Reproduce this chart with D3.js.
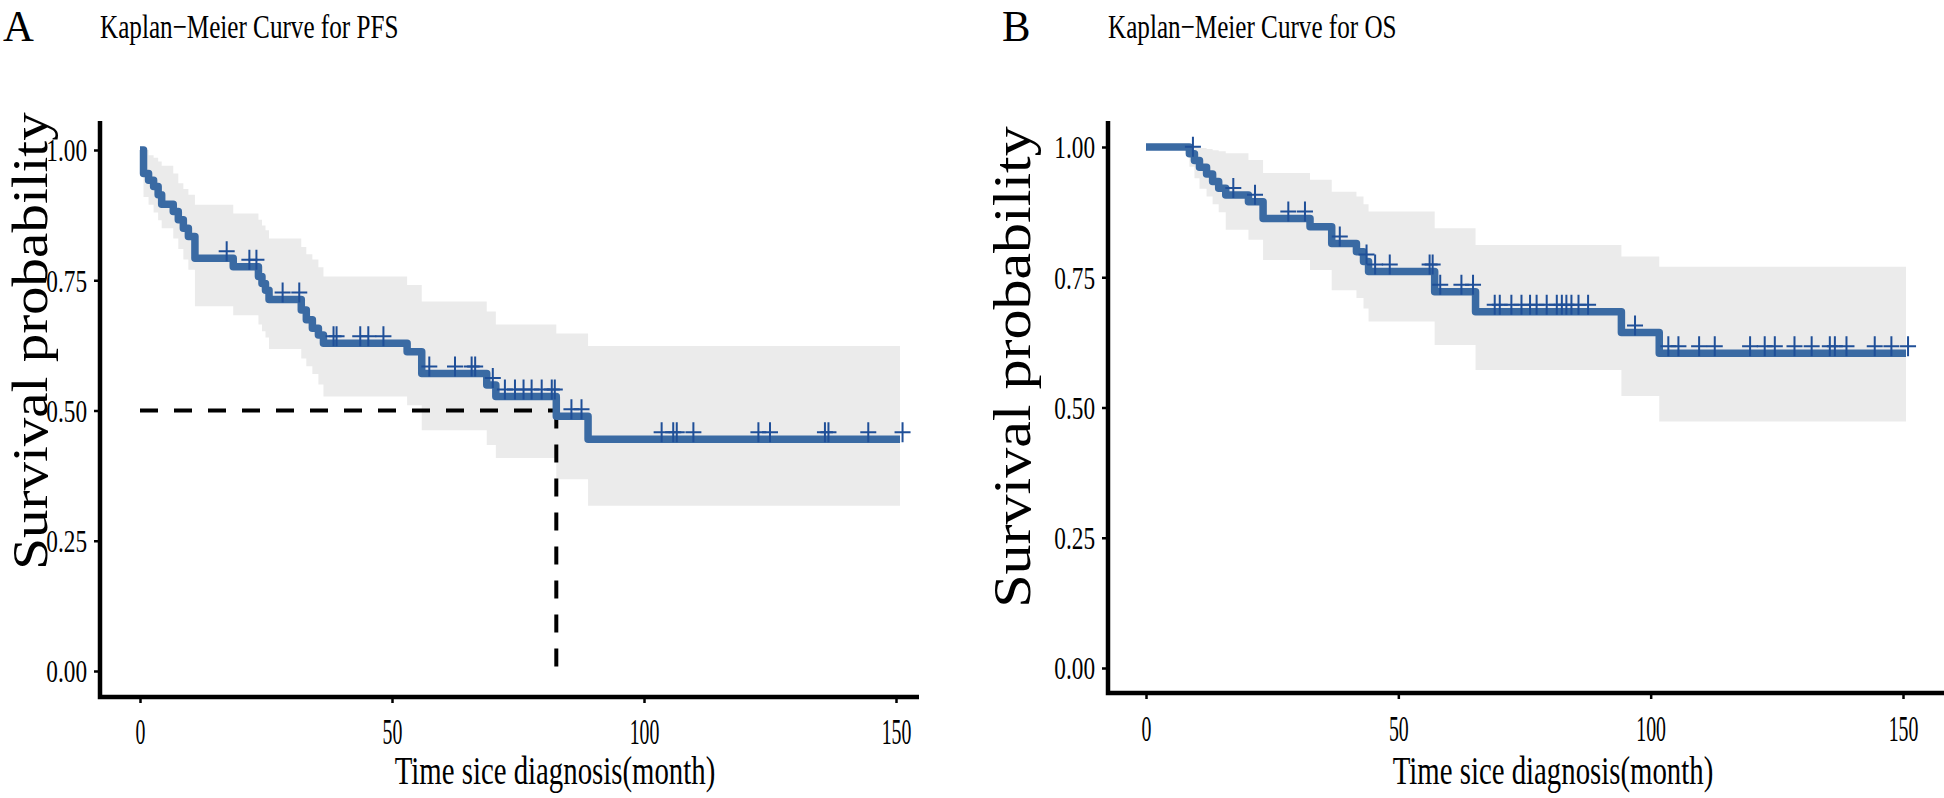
<!DOCTYPE html>
<html>
<head>
<meta charset="utf-8">
<script src="https://cdn.jsdelivr.net/npm/d3@7"></script>
<style>
  html, body { margin: 0; padding: 0; background: #ffffff; }
  svg { display: block; }
</style>
</head>
<body>
<svg id="chart" width="1944" height="798"></svg>
<script>
// ---------------- data ----------------
// PFS (panel A): step times (months), survival after each step, CI bounds
const pfsTime  = [0, 0.7, 1.7, 2.7, 3.6, 4.3, 6.6, 7.6, 8.6, 9.6, 10.9, 18.5, 23.5, 24.2, 24.9, 25.6, 32.0, 33.0, 34.2, 35.4, 36.4, 53.0, 55.9, 68.8, 70.6, 82.6, 88.9];
const pfsSurv  = [1, 0.955, 0.942, 0.930, 0.914, 0.896, 0.882, 0.866, 0.850, 0.834, 0.792, 0.776, 0.757, 0.744, 0.731, 0.713, 0.693, 0.674, 0.658, 0.645, 0.629, 0.613, 0.571, 0.549, 0.527, 0.489, 0.445];
const pfsUpper = [1, 1.0, 0.990, 0.985, 0.978, 0.970, 0.955, 0.936, 0.925, 0.914, 0.895, 0.878, 0.866, 0.855, 0.846, 0.830, 0.814, 0.800, 0.790, 0.775, 0.757, 0.741, 0.709, 0.690, 0.665, 0.648, 0.624];
const pfsLower = [1, 0.910, 0.895, 0.880, 0.865, 0.850, 0.830, 0.810, 0.790, 0.770, 0.700, 0.683, 0.665, 0.652, 0.640, 0.618, 0.600, 0.585, 0.570, 0.550, 0.527, 0.510, 0.462, 0.434, 0.409, 0.368, 0.317];
const pfsEnd = 150.8;
const pfsCensor = [17.2, 21.7, 23.1, 28.3, 31.6, 38.4, 39.0, 43.7, 45.3, 48.3, 57.4, 62.5, 65.8, 66.5, 70.0, 72.4, 74.4, 76.1, 77.7, 79.7, 81.7, 82.3, 85.6, 87.6, 103.5, 105.8, 106.5, 109.8, 122.7, 125.0, 135.9, 136.6, 144.5, 151.3];
const pfsMedian = 82.6;

// OS (panel B)
const osTime  = [0, 8.6, 9.6, 10.6, 12.0, 13.2, 14.4, 15.8, 20.3, 23.2, 32.5, 36.8, 41.7, 43.1, 44.1, 57.2, 65.3, 94.2, 101.7];
const osSurv  = [1, 0.987, 0.974, 0.961, 0.948, 0.934, 0.921, 0.908, 0.895, 0.863, 0.847, 0.815, 0.799, 0.780, 0.761, 0.722, 0.684, 0.644, 0.604];
const osUpper = [1, 1.0, 1.0, 0.998, 0.996, 0.994, 0.992, 0.988, 0.975, 0.950, 0.937, 0.914, 0.905, 0.890, 0.876, 0.844, 0.812, 0.790, 0.770];
const osLower = [1, 0.962, 0.940, 0.920, 0.905, 0.890, 0.875, 0.841, 0.822, 0.783, 0.764, 0.725, 0.710, 0.690, 0.665, 0.620, 0.572, 0.522, 0.473];
const osEnd = 150.6;
const osCensor = [9.3, 17.3, 21.6, 28.2, 31.5, 38.4, 43.7, 45.4, 48.3, 56.2, 56.8, 58.3, 62.5, 64.8, 69.1, 70.1, 72.4, 74.4, 76.1, 77.4, 79.4, 81.4, 82.4, 83.3, 84.3, 85.7, 87.6, 96.9, 103.5, 105.5, 109.6, 112.7, 119.7, 122.6, 124.6, 128.5, 131.9, 135.5, 136.5, 138.8, 144.4, 147.7, 151.0];

// axes
const xTicks = [0, 50, 100, 150];
const yTicks = [0, 0.25, 0.5, 0.75, 1];
const xTitle = "Time sice diagnosis(month)";
const yTitle = "Survival probability";

// ---------------- drawing ----------------
const FONT = "'Liberation Serif','Times New Roman',Times,serif";
const LINE = "#3a6aa3";
const CENS = "#1f4f98";
const BAND = "#ebebeb";
const svg = d3.select("#chart");

function addText(g, str, x, y, size, sx, anchor, rot) {
  return g.append("text")
    .attr("transform", `translate(${x},${y}) scale(${sx},1)` + (rot ? " rotate(-90)" : ""))
    .attr("text-anchor", anchor)
    .style("font-family", FONT)
    .style("font-size", size + "px")
    .attr("fill", "#000")
    .text(str);
}

function panel(cfg) {
  const x = d3.scaleLinear().domain([0, 150]).range(cfg.xr);
  const y = d3.scaleLinear().domain([0, 1]).range(cfg.yr);
  const g = svg.append("g");
  const n = cfg.time.length;

  // confidence band
  const band = cfg.time.map((t, i) => ({ t, lo: cfg.lower[i], hi: cfg.upper[i] }));
  band.push({ t: cfg.end, lo: cfg.lower[n - 1], hi: cfg.upper[n - 1] });
  g.append("path").datum(band)
    .attr("d", d3.area().curve(d3.curveStepAfter).x(d => x(d.t)).y0(d => y(d.lo)).y1(d => y(d.hi)))
    .attr("fill", BAND);

  // median lines
  if (cfg.median != null) {
    g.append("path")
      .attr("d", `M${x(0)},${y(0.5)}H${x(cfg.median)}`)
      .attr("stroke", "#000").attr("stroke-width", 4).attr("stroke-dasharray", "18,16").attr("fill", "none");
    g.append("path")
      .attr("d", `M${x(cfg.median)},${y(0.5)}V${y(0)}`)
      .attr("stroke", "#000").attr("stroke-width", 4).attr("stroke-dasharray", "18,16").attr("fill", "none");
  }

  // KM curve
  const pts = cfg.time.map((t, i) => ({ t, s: cfg.surv[i] }));
  pts.push({ t: cfg.end, s: cfg.surv[n - 1] });
  g.append("path").datum(pts)
    .attr("d", d3.line().curve(d3.curveStepAfter).x(d => x(d.t)).y(d => y(d.s)))
    .attr("fill", "none").attr("stroke", LINE).attr("stroke-width", 7.5)
    .attr("stroke-linejoin", "round").attr("stroke-linecap", "butt");

  // censor marks
  const bis = d3.bisector(d => d).right;
  const survAt = t => cfg.surv[Math.max(0, bis(cfg.time, t) - 1)];
  g.selectAll("path.cens").data(cfg.censor).join("path")
    .attr("class", "cens")
    .attr("d", t => {
      const cx = x(t), cy = y(survAt(t)) - 7;
      return `M${cx - 8},${cy}H${cx + 8}M${cx},${cy - 10}V${cy + 10}`;
    })
    .attr("stroke", CENS).attr("stroke-width", 2).attr("fill", "none");

  // axes
  const ax = cfg.axisX, ay = cfg.axisY;
  const yAxis = g.append("g").attr("transform", `translate(${ax},0)`)
    .call(d3.axisLeft(y).tickValues(yTicks).tickFormat(d3.format(".2f")).tickSize(6).tickSizeOuter(0));
  yAxis.select(".domain").remove();
  yAxis.selectAll(".tick line").attr("stroke", "#000").attr("stroke-width", 2.5);
  yAxis.selectAll(".tick text")
    .attr("x", null).attr("dy", "0.35em")
    .attr("transform", `translate(${-13},0) scale(0.75,1)`)
    .attr("fill", "#000")
    .style("font-family", FONT).style("font-size", "31px");

  const xAxis = g.append("g").attr("transform", `translate(0,${ay})`)
    .call(d3.axisBottom(x).tickValues(xTicks).tickFormat(d3.format("d")).tickSize(6).tickSizeOuter(0));
  xAxis.select(".domain").remove();
  xAxis.selectAll(".tick line").attr("stroke", "#000").attr("stroke-width", 2.5);
  xAxis.selectAll(".tick text")
    .attr("y", null).attr("dy", null)
    .attr("transform", `translate(0,${cfg.xLabelBase - ay}) scale(0.55,1)`)
    .attr("fill", "#000")
    .style("font-family", FONT).style("font-size", "36px");

  // axis lines
  g.append("path").attr("d", `M${ax},${cfg.axisTop}V${ay}H${cfg.axisRight}`)
    .attr("fill", "none").attr("stroke", "#000").attr("stroke-width", 4.5).attr("stroke-linejoin", "miter");

  // texts
  addText(g, cfg.letter, cfg.letterX, 40.5, 45, 0.95, "start");
  addText(g, cfg.title, cfg.titleX, 38, 34, 0.74, "start");
  addText(g, yTitle, cfg.yTitleX, cfg.yTitleY, cfg.yTitleSize, 0.88, "middle", true);
  addText(g, xTitle, cfg.xTitleX, 784, 40, 0.72, "middle");
}

panel({
  time: pfsTime, surv: pfsSurv, upper: pfsUpper, lower: pfsLower, end: pfsEnd,
  censor: pfsCensor, median: pfsMedian,
  xr: [140, 896], yr: [671, 150],
  axisX: 100, axisY: 697, axisTop: 121, axisRight: 919,
  xLabelBase: 744,
  letter: "A", letterX: 3, title: "Kaplan\u2212Meier Curve for PFS", titleX: 100,
  yTitleX: 47, yTitleY: 341, yTitleSize: 57, xTitleX: 555
});

panel({
  time: osTime, surv: osSurv, upper: osUpper, lower: osLower, end: osEnd,
  censor: osCensor, median: null,
  xr: [1146, 1903], yr: [668, 147],
  axisX: 1108, axisY: 693, axisTop: 121, axisRight: 1944,
  xLabelBase: 741,
  letter: "B", letterX: 1002, title: "Kaplan\u2212Meier Curve for OS", titleX: 1108,
  yTitleX: 1030, yTitleY: 367, yTitleSize: 60, xTitleX: 1553
});
</script>
</body>
</html>
